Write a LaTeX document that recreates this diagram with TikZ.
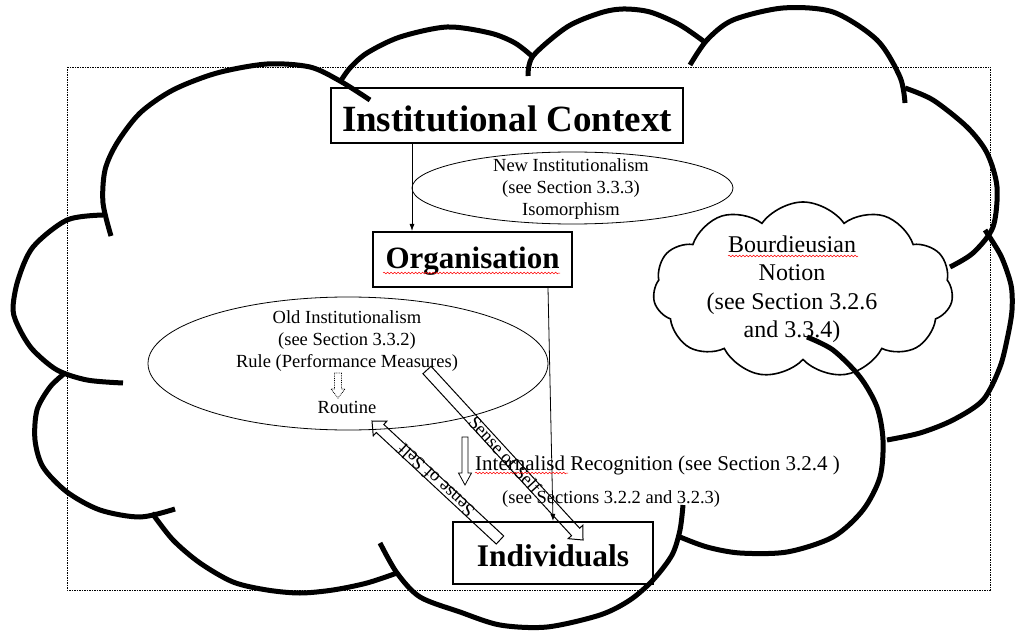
\documentclass[tikz,border=0pt]{standalone}
\usepackage{fontspec}
\setmainfont{Liberation Serif}
\usetikzlibrary{shapes.geometric,shapes.symbols,calc,arrows.meta,decorations.pathmorphing}

% hollow block arrow between two named coordinates
% #1 options, #2 start, #3 end, #4 half shaft, #5 half head, #6 head length
\newcommand\hollowarrow[6]{%
  \coordinate (#2neck) at ($(#3)!#6!(#2)$);
  \draw[#1] ($(#2)!#4!90:(#3)$) -- ($(#2neck)!#4!90:(#3)$) -- ($(#2neck)!#5!90:(#3)$) -- (#3)
    -- ($(#2neck)!#5!-90:(#3)$) -- ($(#2neck)!#4!-90:(#3)$) -- ($(#2)!#4!-90:(#3)$) -- cycle;}

\begin{document}
\begin{tikzpicture}[x=1pt,y=-1pt,
  box/.style={draw, line width=2pt, inner xsep=0pt, inner ysep=5pt},
  lobe/.style={line width=5pt},
  thinline/.style={line width=0.8pt},
  conn/.style={line width=0.8pt, -{Latex[length=7pt,width=5pt]}},
  wavy/.style={red, line width=0.5pt, decorate, decoration={snake, amplitude=0.8pt, segment length=3.5pt}},
  small/.style={font=\fontsize{18.5}{21.5}\selectfont},
  cloudtxt/.style={font=\fontsize{24}{28}\selectfont, anchor=base},
]
\useasboundingbox (0,0) rectangle (1020,631);
\draw[line width=0.7pt, dash pattern=on 1.5pt off 1pt] (67,67) rectangle (990,590);

% boxes
\node[box, minimum width=352pt, text height=39pt, text depth=6pt, anchor=base,
      font=\bfseries\fontsize{37}{40}\selectfont] (ic) at (507,132) {Institutional Context};
\node[box, minimum width=199pt, text height=32pt, text depth=13pt, anchor=base,
      font=\bfseries\fontsize{31}{34}\selectfont] (org) at (472.5,269) {Organisation};
\node[box, minimum width=200pt, text height=39pt, text depth=13pt, anchor=base,
      font=\bfseries\fontsize{31.5}{34}\selectfont] (ind) at (553,566) {Individuals};

% connectors
\coordinate (x1) at (412,0);
\coordinate (x2) at (548,0);
\coordinate (x3) at (553,0);
\draw[conn] (ic.south -| x1) -- (org.north -| x1);
\draw[conn] (org.south -| x2) -- (ind.north -| x3);

% ellipses
\node[draw, ellipse, thinline, minimum width=321pt, minimum height=72pt, inner sep=0pt] (newi) at (572.5,188) {};
\node[draw, ellipse, thinline, minimum width=400pt, minimum height=133pt, inner sep=0pt] (oldi) at (348,363.5) {};

\node[small, anchor=base] (n1) at (571,172) {New Institutionalism};
\node[small, anchor=base] (n2) at (571,193.5) {(see Section 3.3.3)};
\node[small, anchor=base] (n3) at (571,215) {Isomorphism};
\node[small, anchor=base] (o1) at (347,323) {Old Institutionalism};
\node[small, anchor=base] (o2) at (347,345) {(see Section 3.3.2)};
\node[small, anchor=base] (o3) at (347,367) {Rule (Performance Measures)};
\node[small, anchor=base] (o4) at (347,413) {Routine};

\node[font=\fontsize{21}{24}\selectfont, anchor=base west, inner sep=0pt] (ir) at (475,470) {Internalisd Recognition (see Section 3.2.4 )};
\node[small, anchor=base west, inner sep=0pt] (ss) at (502,503) {(see Sections 3.2.2 and 3.2.3)};

% Bourdieusian cloud
\node[cloud, draw, line width=1.6pt, cloud puffs=11, cloud puff arc=110, cloud ignores aspect,
      minimum width=300pt, minimum height=176pt, inner sep=0pt] (bc) at (803,290) {};
\node[cloudtxt] (b1) at (792,252) {Bourdieusian};
\node[cloudtxt] (b2) at (792,280) {Notion};
\node[cloudtxt] (b3) at (792,309) {(see Section 3.2.6};
\node[cloudtxt] (b4) at (792,337) {and 3.3.4)};

% hollow arrows
\coordinate (sA) at (427,370); \coordinate (tA) at (583,540);
\coordinate (sB) at (500,540); \coordinate (tB) at (372,421);
\hollowarrow{line width=1pt}{sA}{tA}{5.5pt}{10pt}{11pt}
\hollowarrow{line width=1pt}{sB}{tB}{5.5pt}{10pt}{11pt}
\node[small, rotate=-47.5, inner sep=0pt] (lA) at ($(sA)!0.5!(tA)$) {Sense of Self};
\node[small, rotate=137.1, inner sep=0pt] (lB) at ($(sB)!0.5!(tB)$) {Sense of Self};

\coordinate (vs) at (465,437); \coordinate (vt) at (465,485);
\hollowarrow{line width=0.8pt}{vs}{vt}{3pt}{6.5pt}{12pt}
\coordinate (ds) at (338,373); \coordinate (dt) at (338,398);
\hollowarrow{line width=0.8pt, densely dotted}{ds}{dt}{3.5pt}{7pt}{9pt}

% spell-check underlines
\draw[wavy] (383,273) -- (560,273);
\draw[wavy] (728,256) -- (858,256);
\draw[wavy] (475,473) -- (568,473);

% big cloud lobes
\draw[lobe] plot[smooth] coordinates {(111,236) (103,203) (105,170) (117,143) (140,113) (173,90) (217,73) (267,64) (310,67) (340,81) (370,100)};
\draw[lobe] plot[smooth] coordinates {(340,82) (350,68) (367,53) (400,37) (447,27) (490,33) (515,43) (533,57)};
\draw[lobe] plot[smooth] coordinates {(528,76) (533,56) (567,27) (600,13) (623,9) (650,12) (680,25) (706,43)};
\draw[lobe] plot[smooth] coordinates {(690,65) (707,40) (733,20) (783,8) (833,12) (877,40) (900,77) (905,103)};
\draw[lobe] plot[smooth] coordinates {(905,88) (933,100) (967,127) (987,153) (997,187) (993,227) (973,253) (950,267)};
\draw[lobe] plot[smooth] coordinates {(985,230) (1001,256) (1011,285) (1012,310) (1008,335) (1000,367) (983,400) (953,420) (920,433) (887,440)};
\draw[lobe] plot[smooth] coordinates {(807,337) (833,350) (860,377) (877,407) (883,440) (880,477) (863,510) (833,537) (787,552) (740,553) (707,547) (680,537)};
\draw[lobe] plot[smooth] coordinates {(683,505) (680,530) (672,555) (653,580) (630,600) (600,615) (547,627) (500,625) (460,612) (420,597) (397,573) (380,543)};
\draw[lobe] plot[smooth] coordinates {(152,513) (173,540) (200,563) (233,582) (267,590) (300,593) (333,590) (367,583) (397,573)};
\draw[lobe] plot[smooth] coordinates {(65,373) (50,387) (37,410) (35,440) (43,467) (67,492) (100,510) (140,517) (175,509)};
\draw[lobe] plot[smooth] coordinates {(103,215) (67,220) (33,247) (18,280) (13,310) (20,330) (33,350) (57,370) (87,380) (123,383)};
\end{tikzpicture}
\end{document}
